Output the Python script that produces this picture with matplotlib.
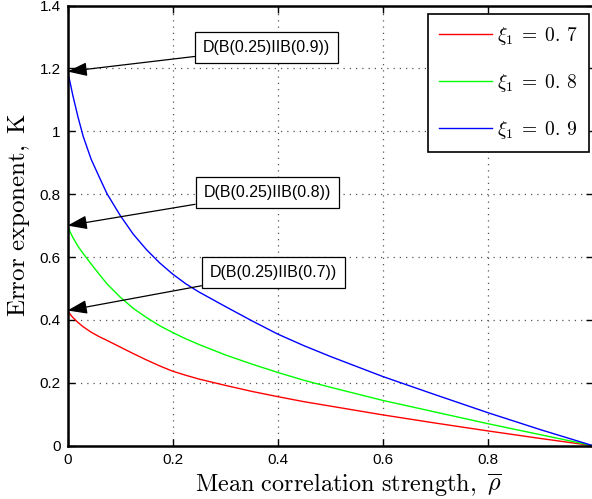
import matplotlib
matplotlib.use("Agg")
import matplotlib.pyplot as plt

# values
rho = [0, 0.005, 0.01, 0.02, 0.03, 0.045, 0.06, 0.075, 0.1, 0.125, 0.15, 0.175, 0.2, 0.225,
       0.25, 0.3, 0.35, 0.4, 0.45, 0.5, 0.6, 0.7, 0.8, 0.9, 1.0]
k_07 = [0.43, 0.418, 0.408, 0.392, 0.378, 0.361, 0.347, 0.335, 0.314, 0.293, 0.273, 0.254, 0.237, 0.224,
        0.212, 0.192, 0.173, 0.156, 0.14, 0.126, 0.098, 0.072, 0.047, 0.023, 0.0]
k_08 = [0.70, 0.68, 0.663, 0.634, 0.611, 0.578, 0.546, 0.515, 0.473, 0.437, 0.408, 0.382, 0.36, 0.34,
        0.322, 0.289, 0.26, 0.233, 0.208, 0.186, 0.144, 0.107, 0.070, 0.035, 0.0]
k_09 = [1.19, 1.155, 1.115, 1.045, 0.983, 0.911, 0.856, 0.802, 0.733, 0.673, 0.624, 0.582, 0.546, 0.515,
        0.489, 0.443, 0.398, 0.355, 0.318, 0.284, 0.22, 0.162, 0.105, 0.051, 0.0]
labels = [r"$\xi_1\;=\;0.\,7$", r"$\xi_1\;=\;0.\,8$", r"$\xi_1\;=\;0.\,9$"]
colors = ["#ff0000", "#00ff00", "#0000ff"]
notes = ["D(B(0.25)IIB(0.7))", "D(B(0.25)IIB(0.8))", "D(B(0.25)IIB(0.9))"]
note_pos = [(0.392, 0.551), (0.38, 0.806), (0.379, 1.265)]

plt.rcParams["mathtext.fontset"] = "cm"
plt.rcParams["font.family"] = ["Liberation Sans", "DejaVu Sans"]

W, H = 592, 499
fig = plt.figure(figsize=(W / 100, H / 100), dpi=100)
ax = fig.add_axes([67.5 / W, (H - 445.7) / H, (593 - 67.5) / W, (445.7 - 5.5) / H])

for ys, lab, col in zip([k_07, k_08, k_09], labels, colors):
    ax.plot(rho, ys, color=col, lw=1.0, label=lab)

ax.set_xlim(0, 1); ax.set_ylim(0, 1.4)
ax.set_xticks([0, 0.2, 0.4, 0.6, 0.8, 1.0])
ax.set_xticklabels(["0", "0.2", "0.4", "0.6", "0.8", ""])
ax.set_yticks([0, 0.2, 0.4, 0.6, 0.8, 1.0, 1.2, 1.4])
ax.set_yticklabels(["0", "0.2", "0.4", "0.6", "0.8", "1", "1.2", "1.4"])
ax.tick_params(direction="in", top=True, right=True, length=5, width=1, labelsize=11, pad=5)
ax.grid(True, ls=(0, (1, 4)), color="#555555", lw=0.9)
for sp in ax.spines.values():
    sp.set_linewidth(1.8)

ax.set_xlabel(r"$\mathrm{Mean\ correlation\ strength,}\ \overline{\rho}$", fontsize=17.5)
ax.xaxis.set_label_coords(0.534, -0.06)
ax.set_ylabel(r"$\mathrm{Error\ exponent,\ K}$", fontsize=18)
ax.yaxis.set_label_coords(-0.068, 0.524)

for (ys, txt, pos) in zip([k_07, k_08, k_09], notes, note_pos):
    ax.annotate(txt, xy=(rho[0], ys[0]), xytext=pos, ha="center", va="center", fontsize=11.5,
                bbox=dict(boxstyle="square,pad=0.5", fc="white", ec="black", lw=0.9),
                arrowprops=dict(arrowstyle="-|>,head_length=1.2,head_width=0.42", color="black",
                                lw=0.9, mutation_scale=10, shrinkA=0, shrinkB=0),
                annotation_clip=False)

leg = ax.legend(loc="upper right", bbox_to_anchor=(0.992, 0.981), borderaxespad=0,
                fontsize=14, fancybox=False, framealpha=1, edgecolor="black",
                labelspacing=1.3, handlelength=2.7, handletextpad=0.3, borderpad=0.55)
leg.get_frame().set_linewidth(1.2)

fig.savefig("out.png", dpi=100)
